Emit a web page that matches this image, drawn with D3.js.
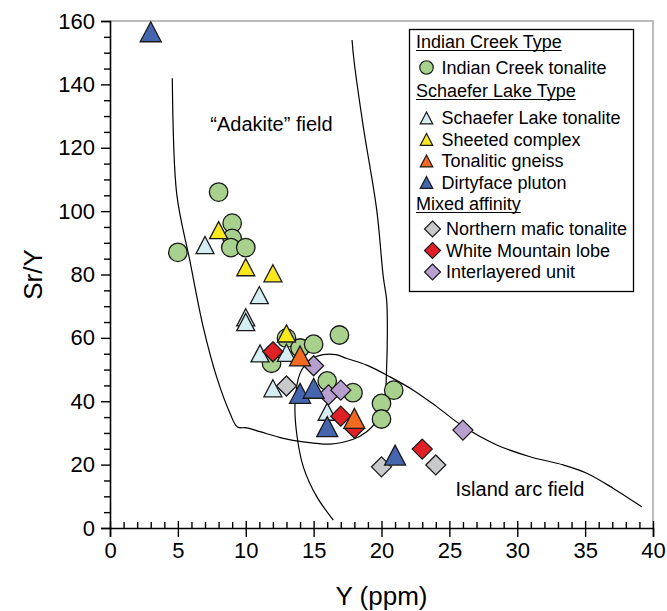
<!DOCTYPE html>
<html><head><meta charset="utf-8">
<script src="https://cdn.jsdelivr.net/npm/d3@7"></script>
<style>body{margin:0;background:#fff}svg{display:block;font-family:"Liberation Sans",Arial,sans-serif}</style>
</head><body>
<svg id="c" width="667" height="611"></svg>
<script>
// ---- data ----
const indianCreek = [[5.0,87],[8.0,106],[9.0,96.2],[9.0,91.4],[8.9,88.5],[10.0,88.5],[13.0,59.9],[14.0,56.8],[15.0,58.0],[16.9,60.9],[11.9,52.0],[16.0,46.4],[17.9,42.7],[20.9,43.5],[20.0,39.3],[20.0,34.4]];
const schaeferLake = [[7.0,89.3],[11.0,73.5],[10.0,66.5],[10.0,65.0],[11.05,55.1],[13.0,55.3],[12.0,44.1],[16.0,36.7]];
const sheeted = [[8.0,94.0],[10.0,82.3],[12.0,80.4],[13.0,61.4]];
const gneiss = [[14.0,54.3],[18.0,34.6]];
const dirtyface = [[3.0,156.6],[14.0,42.5],[15.0,44.1],[16.0,32.0],[21.0,23.0]];
const northern = [[13.0,44.8],[20.0,19.3],[24.0,19.9]];
const whiteMountain = [[12.0,55.6],[17.0,35.3],[18.0,31.5],[23.0,24.9]];
const interlayered = [[15.0,51.2],[16.1,42.0],[17.0,43.5],[26.0,30.9]];

const adakiteField = [[17.83,154],[17.97,147.7],[18.66,126.6],[19.65,100.3],[20.13,79.3],[20.38,71.9],[20.43,61.4],[20.38,50.9],[20.26,41.4],[20.0,37.2],[19.52,33.0],[18.91,30.4],[17.92,28.0],[16.2,26.5],[14.24,27.2],[12.77,28.3],[11.05,30.4],[10.07,31.6],[9.38,31.9],[8.84,36.2],[7.86,47.6],[6.87,63.4],[5.89,84.2],[4.91,105.6],[4.59,141.9]];
const islandArcField = [[16.45,2.5],[15.23,9.9],[14.24,19.3],[13.75,29.9],[13.63,39.3],[14.0,48.8],[14.73,53.0],[15.69,54.7],[16.65,54.7],[17.44,53.5],[18.91,51.4],[20.63,47.7],[22.34,43.5],[24.07,38.3],[26.03,32.0],[28.49,26.2],[30.94,22.5],[33.39,19.9],[35.12,17.3],[37.08,12.5],[39.17,6.7]];

const xTicks = [0,5,10,15,20,25,30,35,40];
const yTicks = [0,20,40,60,80,100,120,140,160];

const series = [
  {name:"Indian Creek tonalite", data:indianCreek, shape:"circle", color:"#a8d18d"},
  {name:"Schaefer Lake tonalite", data:schaeferLake, shape:"triangle", color:"#d4eef4", small:true},
  {name:"Sheeted complex", data:sheeted, shape:"triangle", color:"#fbe91c", small:true},
  {name:"Northern mafic tonalite", data:northern, shape:"diamond", color:"#c8c9ca"},
  {name:"White Mountain lobe", data:whiteMountain, shape:"diamond", color:"#e02027"},
  {name:"Interlayered unit", data:interlayered, shape:"diamond", color:"#b7a0cf"},
  {name:"Tonalitic gneiss", data:gneiss, shape:"triangle", color:"#f26a21"},
  {name:"Dirtyface pluton", data:dirtyface, shape:"triangle", color:"#4565ae"}
];

const svg = d3.select("#c");
const x = d3.scaleLinear().domain([0,40]).range([110,653]);
const y = d3.scaleLinear().domain([0,160]).range([528,21]);

// frame (gray top/right)
svg.append("path").attr("d",`M${x(0)},${y(160)}H${x(40)}V${y(0)}`).attr("fill","none").attr("stroke","#a8a8a8").attr("stroke-width",1.5);

// field curves
const line = d3.line().x(d=>x(d[0])).y(d=>y(d[1])).curve(d3.curveCatmullRom.alpha(0.5));
svg.append("path").attr("d",line(adakiteField)).attr("fill","none").attr("stroke","#000").attr("stroke-width",1.2);
svg.append("path").attr("d",line(islandArcField)).attr("fill","none").attr("stroke","#000").attr("stroke-width",1.2);

svg.append("text").attr("x",271.5).attr("y",131).attr("text-anchor","middle").attr("font-size",20).text("“Adakite” field");
svg.append("text").attr("x",520).attr("y",496).attr("text-anchor","middle").attr("font-size",20).text("Island arc field");

// markers
function shapePath(shape, s){
  if(shape==="circle") return d3.symbol(d3.symbolCircle, Math.PI*(s/2)*(s/2))();
  if(shape==="triangle"){ const h=s*0.95, w=s; return `M0,${-h/2}L${w/2},${h/2}L${-w/2},${h/2}Z`; }
  const r=s/2; return `M0,${-r}L${r},0L0,${r}L${-r},0Z`;
}
series.forEach(sr=>{
  const size = sr.shape==="circle"?18.5:(sr.shape==="diamond"?20:(sr.small?18:21));
  svg.append("g").selectAll("path").data(sr.data).join("path")
    .attr("transform",d=>`translate(${x(d[0])},${y(d[1])})`)
    .attr("d",shapePath(sr.shape,size))
    .attr("fill",sr.color).attr("stroke","#1a1a1a").attr("stroke-width",1.3);
});

// axes
const minorY = d3.range(0,161,5).filter(v=>v%20!==0);
const minorX = d3.range(0,41,1).filter(v=>v%5!==0);
const gy = svg.append("g").attr("transform",`translate(${x(0)},0)`);
gy.call(d3.axisLeft(y).tickValues(yTicks).tickSize(9).tickPadding(6).tickFormat(d3.format("d")));
gy.append("g").call(d3.axisLeft(y).tickValues(minorY).tickSize(6).tickFormat(""));
const gx = svg.append("g").attr("transform",`translate(0,${y(0)})`);
gx.call(d3.axisBottom(x).tickValues(xTicks).tickSize(9).tickPadding(5).tickFormat(d3.format("d")));
gx.append("g").call(d3.axisTop(x).tickValues(xTicks).tickSize(7).tickFormat(""));
gx.append("g").call(d3.axisTop(x).tickValues(minorX).tickSize(6).tickFormat(""));
svg.selectAll(".domain").attr("stroke","#000").attr("stroke-width",1.6);
svg.selectAll(".tick line").attr("stroke","#000").attr("stroke-width",1.4);
svg.selectAll(".tick text").attr("font-size",22).attr("fill","#000").attr("font-family","Liberation Sans, Arial, sans-serif");
gx.selectAll(".domain").filter((d,i,n)=>n[i].parentNode!==gx.node()).remove();
gy.selectAll("g .domain").filter((d,i,n)=>n[i].parentNode!==gy.node()).remove();

svg.append("text").attr("transform",`translate(42,${y(80)}) rotate(-90)`).attr("text-anchor","middle").attr("font-size",26).text("Sr/Y");
svg.append("text").attr("x",x(20)).attr("y",605).attr("text-anchor","middle").attr("font-size",26).text("Y (ppm)");

// legend
const lg = svg.append("g");
lg.append("rect").attr("x",409.5).attr("y",29.5).attr("width",224).attr("height",262).attr("fill","#fff").attr("stroke","#000").attr("stroke-width",1.3);
const legendRows = [
  {head:"Indian Creek Type", yb:48},
  {s:0, yb:73.5},
  {head:"Schaefer Lake Type", yb:97},
  {s:1, yb:124},
  {s:2, yb:145.5},
  {s:6, yb:167},
  {s:7, yb:188.5},
  {head:"Mixed affinity", yb:210},
  {s:3, yb:235},
  {s:4, yb:256.5},
  {s:5, yb:278}
];
legendRows.forEach(r=>{
  if(r.head){
    const t = lg.append("text").attr("x",416).attr("y",r.yb).attr("font-size",18).text(r.head);
    const w = t.node().getComputedTextLength();
    lg.append("line").attr("x1",416).attr("x2",416+w).attr("y1",r.yb+2.5).attr("y2",r.yb+2.5).attr("stroke","#000").attr("stroke-width",1.2);
  } else {
    const sr = series[r.s];
    const isD = sr.shape==="diamond";
    const sz = sr.shape==="circle"?13.5:(isD?16:12.5);
    lg.append("path").attr("transform",`translate(${isD?432.5:426.5},${r.yb-6})`).attr("d",shapePath(sr.shape,sz))
      .attr("fill",sr.color).attr("stroke","#1a1a1a").attr("stroke-width",1.2);
    lg.append("text").attr("x",isD?446:441.5).attr("y",r.yb).attr("font-size",18).text(sr.name);
  }
});
</script>
</body></html>
